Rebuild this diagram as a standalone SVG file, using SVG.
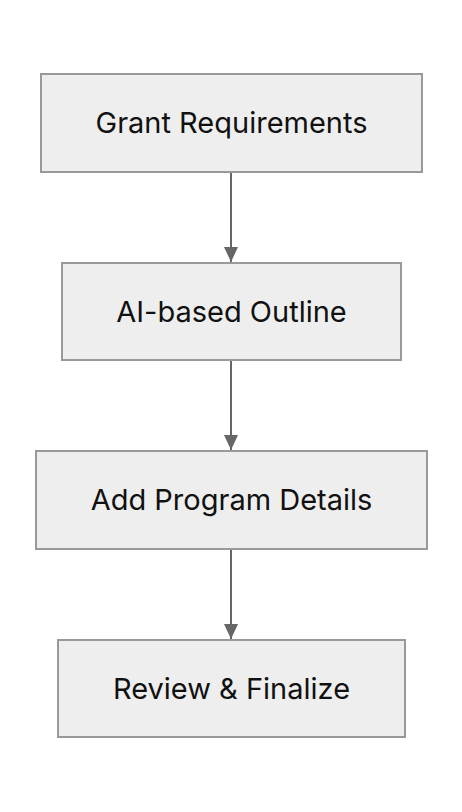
<svg xmlns="http://www.w3.org/2000/svg" width="462" height="812" viewBox="0 0 462 812">
<style>
.box{fill:#eeeeee;stroke:#999999;stroke-width:2}
.lbl{font-family:Inter,"Liberation Sans",sans-serif;font-size:29px;fill:#111111;text-anchor:middle}
.edge{stroke:#666666;stroke-width:2;fill:none}
</style>
<defs>
<marker id="arr" markerUnits="userSpaceOnUse" markerWidth="16" markerHeight="14" refX="15" refY="7" orient="auto">
<path d="M0,0 L15,7 L0,14 Z" fill="#666666"/>
</marker>
</defs>
<rect width="462" height="812" fill="#ffffff"/>
<g id="edges">
<line class="edge" x1="231" y1="172" x2="231" y2="262" marker-end="url(#arr)"/>
<line class="edge" x1="231" y1="361" x2="231" y2="450" marker-end="url(#arr)"/>
<line class="edge" x1="231" y1="549" x2="231" y2="639" marker-end="url(#arr)"/>
</g>
<g id="n1">
<rect class="box" x="41" y="74" width="381" height="98"/>
<text class="lbl" x="231.5" y="133">Grant Requirements</text>
</g>
<g id="n2">
<rect class="box" x="62" y="263" width="339" height="97"/>
<text class="lbl" x="231.5" y="322">AI-based Outline</text>
</g>
<g id="n3">
<rect class="box" x="36" y="451" width="391" height="98"/>
<text class="lbl" x="231.5" y="510">Add Program Details</text>
</g>
<g id="n4">
<rect class="box" x="58" y="640" width="347" height="97"/>
<text class="lbl" x="231.5" y="699">Review &amp; Finalize</text>
</g>
</svg>
